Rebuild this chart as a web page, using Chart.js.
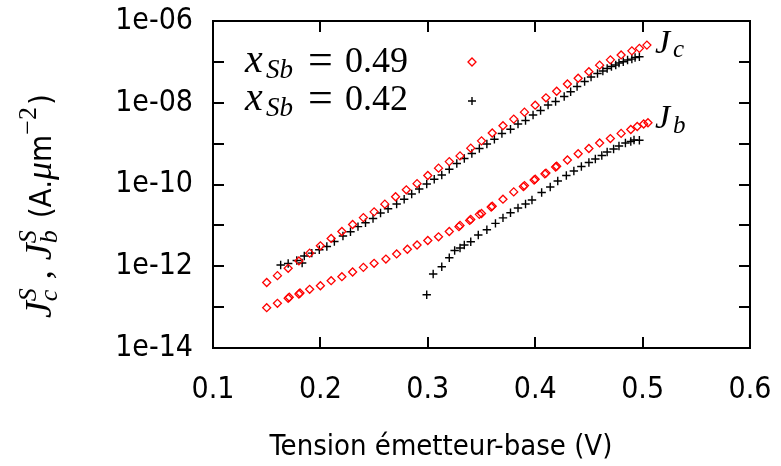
<!DOCTYPE html>
<html>
<head>
<meta charset="utf-8">
<script src="https://cdn.jsdelivr.net/npm/chart.js@4.4.1/dist/chart.umd.min.js"></script>
<style>
  html, body { margin: 0; padding: 0; background: #fff; }
  canvas { display: block; }
</style>
</head>
<body>
<canvas id="chart" width="781" height="466"></canvas>
<script>
// axis ticks
const xTicks = [0.1, 0.2, 0.3, 0.4, 0.5, 0.6];
const yTicks = [1e-14, 1e-13, 1e-12, 1e-11, 1e-10, 1e-9, 1e-8, 1e-7, 1e-6];
const yTickLabels = ['1e-14', '', '1e-12', '', '1e-10', '', '1e-08', '', '1e-06'];

// x_Sb = 0.49 , collector current (red diamonds)
const vRedJc = [0.15, 0.16, 0.17, 0.18, 0.19, 0.20, 0.21, 0.22, 0.23, 0.24, 0.25, 0.26, 0.27, 0.28, 0.29,
  0.30, 0.31, 0.32, 0.33, 0.34, 0.35, 0.36, 0.37, 0.38, 0.39, 0.40, 0.41, 0.42, 0.43, 0.44,
  0.45, 0.46, 0.47, 0.48, 0.49, 0.497, 0.504];
const jRedJc = [4.0e-13, 5.89e-13, 8.91e-13, 1.35e-12, 2.09e-12, 3.16e-12, 4.79e-12, 7.08e-12, 1.05e-11, 1.55e-11,
  2.14e-11, 3.31e-11, 5.01e-11, 7.41e-11, 1.05e-10, 1.66e-10, 2.51e-10, 3.63e-10, 5.01e-10, 7.76e-10,
  1.17e-9, 1.82e-9, 2.75e-9, 3.98e-9, 5.89e-9, 8.71e-9, 1.32e-8, 1.91e-8, 2.88e-8, 3.98e-8,
  5.75e-8, 8.32e-8, 1.12e-7, 1.48e-7, 1.86e-7, 2.14e-7, 2.57e-7];

// x_Sb = 0.49 , base current
const vRedJb = [0.150, 0.160, 0.170, 0.171, 0.180, 0.181, 0.190, 0.200, 0.210, 0.220, 0.230, 0.240, 0.250, 0.261,
  0.271, 0.281, 0.290, 0.300, 0.310, 0.320, 0.329, 0.330, 0.339, 0.340, 0.348, 0.350, 0.359, 0.360,
  0.370, 0.380, 0.389, 0.390, 0.399, 0.400, 0.409, 0.410, 0.419, 0.420, 0.430, 0.440, 0.450, 0.460,
  0.470, 0.480, 0.489, 0.495, 0.501, 0.505];
const jRedJb = [9.7e-14, 1.24e-13, 1.65e-13, 1.74e-13, 2.09e-13, 2.22e-13, 2.73e-13, 3.34e-13, 4.43e-13, 5.55e-13,
  7.23e-13, 9.4e-13, 1.18e-12, 1.50e-12, 2.0e-12, 2.6e-12, 3.31e-12, 4.27e-12, 5.25e-12, 7.08e-12,
  9.3e-12, 1.0e-11, 1.32e-11, 1.4e-11, 1.86e-11, 1.95e-11, 2.82e-11, 2.95e-11, 4.37e-11, 6.6e-11,
  8.9e-11, 9.4e-11, 1.29e-10, 1.35e-10, 1.82e-10, 1.9e-10, 2.68e-10, 2.8e-10, 3.98e-10, 5.64e-10,
  7.6e-10, 1.04e-9, 1.33e-9, 1.78e-9, 2.22e-9, 2.63e-9, 3.02e-9, 3.24e-9];

// x_Sb = 0.42 , collector current (black crosses)
const vBlkJc = [0.163, 0.170, 0.178, 0.183, 0.185, 0.192, 0.199, 0.206, 0.213, 0.221, 0.228, 0.235, 0.242, 0.249,
  0.256, 0.263, 0.271, 0.278, 0.285, 0.292, 0.299, 0.306, 0.313, 0.320, 0.327, 0.334, 0.341, 0.348,
  0.355, 0.362, 0.369, 0.377, 0.384, 0.391, 0.398, 0.405, 0.412, 0.419, 0.427, 0.433, 0.439, 0.446,
  0.452, 0.458, 0.463, 0.467, 0.471, 0.475, 0.478, 0.482, 0.486, 0.490, 0.493, 0.497];
const jBlkJc = [1.07e-12, 1.17e-12, 1.38e-12, 1.20e-12, 1.78e-12, 2.10e-12, 2.54e-12, 3.04e-12, 4.04e-12, 5.50e-12,
  7.0e-12, 9.3e-12, 1.16e-11, 1.47e-11, 2.01e-11, 2.55e-11, 3.33e-11, 4.35e-11, 5.86e-11, 7.76e-11,
  1.03e-10, 1.34e-10, 1.71e-10, 2.36e-10, 3.27e-10, 4.33e-10, 5.73e-10, 7.60e-10, 9.8e-10, 1.28e-9,
  1.77e-9, 2.24e-9, 3.02e-9, 3.68e-9, 5.01e-9, 6.46e-9, 8.8e-9, 1.07e-8, 1.42e-8, 1.86e-8,
  2.50e-8, 3.31e-8, 4.27e-8, 5.2e-8, 5.98e-8, 6.89e-8, 7.71e-8, 8.4e-8, 9.38e-8, 1.01e-7,
  1.11e-7, 1.17e-7, 1.28e-7, 1.34e-7];

// x_Sb = 0.42 , base current
const vBlkJb = [0.299, 0.305, 0.313, 0.320, 0.325, 0.330, 0.334, 0.340, 0.347, 0.355, 0.363, 0.370, 0.377, 0.384,
  0.391, 0.397, 0.406, 0.414, 0.421, 0.429, 0.436, 0.443, 0.450, 0.456, 0.462, 0.467, 0.473, 0.478,
  0.484, 0.489, 0.492, 0.497];
const jBlkJb = [2.0e-13, 6.46e-13, 9.75e-13, 1.61e-12, 2.43e-12, 2.80e-12, 3.31e-12, 3.99e-12, 5.82e-12, 7.83e-12,
  1.12e-11, 1.53e-11, 2.03e-11, 2.66e-11, 3.33e-11, 4.18e-11, 6.37e-11, 8.69e-11, 1.22e-10, 1.66e-10,
  2.14e-10, 2.75e-10, 3.45e-10, 4.2e-10, 5.12e-10, 6.24e-10, 7.39e-10, 8.75e-10, 1.04e-9, 1.13e-9,
  1.23e-9, 1.21e-9];

const SANS = "'DejaVu Sans Condensed', 'DejaVu Sans', sans-serif";
const SERIF = "'Liberation Serif', serif";

function pts(vs, js) {
  return vs.map((v, i) => ({ x: v, y: js[i] }));
}

const red = {
  pointStyle: 'rectRot', pointRadius: 4, pointBorderWidth: 1.3,
  pointBorderColor: '#ff0000', pointBackgroundColor: 'rgba(0,0,0,0)', showLine: false
};
const blk = {
  pointStyle: 'cross', pointRadius: 4.2, pointBorderWidth: 1.4,
  pointBorderColor: '#000000', pointBackgroundColor: '#000000', showLine: false
};

// draws a run of text pieces one after another (for sub/superscripts)
function drawRich(ctx, parts, x, y) {
  let cx = x;
  parts.forEach(p => {
    ctx.font = p.f;
    if (p.ax !== undefined) cx = p.ax;
    cx += p.g || 0;
    ctx.fillText(p.t, cx, y + (p.dy || 0));
    const w = ctx.measureText(p.t).width;
    if (!p.stack) cx += w;
  });
  return cx;
}

const decor = {
  id: 'decor',
  afterDraw(chart) {
    const ctx = chart.ctx;
    const a = chart.chartArea;
    const xs = chart.scales.x, ys = chart.scales.y;
    ctx.save();
    ctx.strokeStyle = '#000';
    ctx.lineWidth = 2;
    // inward ticks on all four sides
    ctx.beginPath();
    xTicks.forEach(v => {
      const px = Math.round(xs.getPixelForValue(v));
      ctx.moveTo(px, a.bottom); ctx.lineTo(px, a.bottom - 11);
      ctx.moveTo(px, a.top); ctx.lineTo(px, a.top + 11);
    });
    yTicks.forEach(v => {
      const py = Math.round(ys.getPixelForValue(v));
      ctx.moveTo(a.left, py); ctx.lineTo(a.left + 11, py);
      ctx.moveTo(a.right, py); ctx.lineTo(a.right - 11, py);
    });
    ctx.stroke();
    ctx.strokeRect(a.left, a.top, a.right - a.left, a.bottom - a.top);

    ctx.fillStyle = '#000';
    ctx.textBaseline = 'alphabetic';
    ctx.textAlign = 'left';

    // key
    [['0.49', 72], ['0.42', 110]].forEach(([lab, by]) => {
      drawRich(ctx, [
        { t: 'x', f: 'italic 40px ' + SERIF, ax: 245 },
        { t: 'Sb', f: 'italic 27px ' + SERIF, dy: 6, ax: 266 },
        { t: '=', f: '44px ' + SERIF, dy: 2, ax: 308 },
        { t: lab, f: '36px ' + SERIF, ax: 345 }
      ], 0, by);
    });
    ctx.lineWidth = 1.3;
    ctx.strokeStyle = '#ff0000';
    ctx.beginPath();
    ctx.moveTo(472 - 4, 62); ctx.lineTo(472, 58); ctx.lineTo(472 + 4, 62); ctx.lineTo(472, 66);
    ctx.closePath();
    ctx.stroke();
    ctx.strokeStyle = '#000';
    ctx.lineWidth = 1.4;
    ctx.beginPath();
    ctx.moveTo(468, 101); ctx.lineTo(476, 101);
    ctx.moveTo(472, 97); ctx.lineTo(472, 105);
    ctx.stroke();

    // curve labels
    drawRich(ctx, [
      { t: 'J', f: 'italic 34px ' + SERIF },
      { t: 'c', f: 'italic 25px ' + SERIF, dy: 4, g: 3 }
    ], 655, 53);
    drawRich(ctx, [
      { t: 'J', f: 'italic 34px ' + SERIF },
      { t: 'b', f: 'italic 25px ' + SERIF, dy: 5, g: 3 }
    ], 655, 128);

    // y axis title, rotated
    ctx.save();
    ctx.translate(51, 318);
    ctx.rotate(-Math.PI / 2);
    drawRich(ctx, [
      { t: 'J', f: 'italic 38px ' + SERIF },
      { t: 'c', f: 'italic 26px ' + SERIF, dy: 6, stack: true },
      { t: 'S', f: 'italic 26px ' + SERIF, dy: -15 },
      { t: ' ,', f: '36px ' + SERIF },
      { t: 'J', f: 'italic 38px ' + SERIF, g: 10 },
      { t: 'b', f: 'italic 26px ' + SERIF, dy: 6, stack: true },
      { t: 'S', f: 'italic 26px ' + SERIF, dy: -15 },
      { t: '(A.', f: '31px ' + SANS, g: 12 },
      { t: 'μ', f: 'italic 36px ' + SERIF },
      { t: 'm', f: '31px ' + SANS },
      { t: '−2', f: '26px ' + SERIF, dy: -15 },
      { t: ')', f: '31px ' + SANS, g: 2 }
    ], 0, 0);
    ctx.restore();

    // x axis title
    ctx.font = '29px ' + SANS;
    ctx.textAlign = 'center';
    ctx.fillText('Tension émetteur-base (V)', 441, 455);
    ctx.restore();
  }
};

new Chart(document.getElementById('chart'), {
  type: 'scatter',
  data: {
    datasets: [
      Object.assign({ label: 'Jc 0.49', data: pts(vRedJc, jRedJc) }, red),
      Object.assign({ label: 'Jb 0.49', data: pts(vRedJb, jRedJb) }, red),
      Object.assign({ label: 'Jc 0.42', data: pts(vBlkJc, jBlkJc) }, blk),
      Object.assign({ label: 'Jb 0.42', data: pts(vBlkJb, jBlkJb) }, blk)
    ]
  },
  options: {
    responsive: false,
    animation: false,
    devicePixelRatio: 1,
    layout: { padding: { top: 21, right: 31, left: 0, bottom: 0 } },
    plugins: {
      legend: { display: false },
      tooltip: { enabled: false }
    },
    scales: {
      x: {
        type: 'linear',
        min: 0.1,
        max: 0.6,
        afterBuildTicks: s => { s.ticks = xTicks.map(v => ({ value: v })); },
        afterFit: s => { s.height = 118; s.paddingLeft = 0; s.paddingRight = 0; },
        grid: { display: false, drawTicks: false },
        border: { display: false },
        ticks: {
          padding: 24,
          color: '#000',
          font: { family: SANS, size: 30 },
          maxRotation: 0,
          callback: v => v.toFixed(1)
        }
      },
      y: {
        type: 'logarithmic',
        min: 1e-14,
        max: 1e-6,
        afterBuildTicks: s => { s.ticks = yTicks.map(v => ({ value: v })); },
        afterFit: s => { s.width = 213; s.paddingTop = 0; s.paddingBottom = 0; },
        grid: { display: false, drawTicks: false },
        border: { display: false },
        ticks: {
          padding: 20,
          color: '#000',
          font: { family: SANS, size: 30 },
          callback: (v, i) => yTickLabels[i]
        }
      }
    }
  },
  plugins: [decor]
});
</script>
</body>
</html>
